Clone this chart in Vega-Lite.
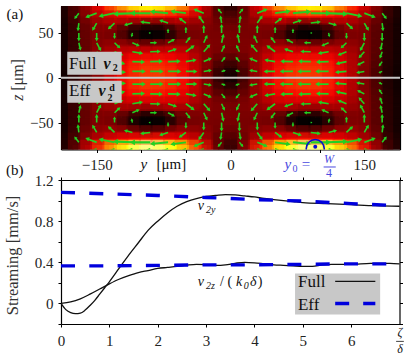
{"$schema":"https://vega.github.io/schema/vega-lite/v6.json","padding":{"left":3,"top":2,"right":0,"bottom":0},"spacing":30,"bounds":"flush","background":"white","config":{"view":{"stroke":null},"font":"Liberation Serif","axis":{"grid":false,"labelFont":"Liberation Serif","titleFont":"Liberation Serif","labelFontSize":15,"titleFontSize":16.5,"labelColor":"#222","titleColor":"#333","titleFontWeight":"normal","tickColor":"#000","domainColor":"#000","tickSize":3,"tickWidth":1,"domainWidth":1.2,"zindex":1,"labelOverlap":false,"labelFlush":false},"text":{"font":"Liberation Serif","color":"#111"}},
"datasets":{"heat":[
{"y":-183,"z":76,"v":0.05},{"y":-170,"z":76,"v":0.17},{"y":-156,"z":76,"v":0.3},{"y":-143,"z":76,"v":0.43},{"y":-129,"z":76,"v":0.55},{"y":-115,"z":76,"v":0.66},{"y":-102,"z":76,"v":0.74},{"y":-88,"z":76,"v":0.76},{"y":-75,"z":76,"v":0.72},{"y":-61,"z":76,"v":0.65},{"y":-48,"z":76,"v":0.55},{"y":-34,"z":76,"v":0.4},{"y":-20,"z":76,"v":0.22},{"y":-7,"z":76,"v":0.08},{"y":7,"z":76,"v":0.08},{"y":20,"z":76,"v":0.22},{"y":34,"z":76,"v":0.4},{"y":48,"z":76,"v":0.55},{"y":61,"z":76,"v":0.65},{"y":75,"z":76,"v":0.72},{"y":88,"z":76,"v":0.76},{"y":102,"z":76,"v":0.74},{"y":115,"z":76,"v":0.66},{"y":129,"z":76,"v":0.55},{"y":143,"z":76,"v":0.43},{"y":156,"z":76,"v":0.3},{"y":170,"z":76,"v":0.17},{"y":183,"z":76,"v":0.05},
{"y":-183,"z":68,"v":0.05},{"y":-170,"z":68,"v":0.16},{"y":-156,"z":68,"v":0.26},{"y":-143,"z":68,"v":0.33},{"y":-129,"z":68,"v":0.38},{"y":-115,"z":68,"v":0.42},{"y":-102,"z":68,"v":0.44},{"y":-88,"z":68,"v":0.45},{"y":-75,"z":68,"v":0.44},{"y":-61,"z":68,"v":0.42},{"y":-48,"z":68,"v":0.38},{"y":-34,"z":68,"v":0.32},{"y":-20,"z":68,"v":0.22},{"y":-7,"z":68,"v":0.14},{"y":7,"z":68,"v":0.14},{"y":20,"z":68,"v":0.22},{"y":34,"z":68,"v":0.32},{"y":48,"z":68,"v":0.38},{"y":61,"z":68,"v":0.42},{"y":75,"z":68,"v":0.44},{"y":88,"z":68,"v":0.45},{"y":102,"z":68,"v":0.44},{"y":115,"z":68,"v":0.42},{"y":129,"z":68,"v":0.38},{"y":143,"z":68,"v":0.33},{"y":156,"z":68,"v":0.26},{"y":170,"z":68,"v":0.16},{"y":183,"z":68,"v":0.05},
{"y":-183,"z":60,"v":0.04},{"y":-170,"z":60,"v":0.14},{"y":-156,"z":60,"v":0.22},{"y":-143,"z":60,"v":0.27},{"y":-129,"z":60,"v":0.28},{"y":-115,"z":60,"v":0.26},{"y":-102,"z":60,"v":0.2},{"y":-88,"z":60,"v":0.18},{"y":-75,"z":60,"v":0.2},{"y":-61,"z":60,"v":0.27},{"y":-48,"z":60,"v":0.27},{"y":-34,"z":60,"v":0.25},{"y":-20,"z":60,"v":0.22},{"y":-7,"z":60,"v":0.18},{"y":7,"z":60,"v":0.18},{"y":20,"z":60,"v":0.22},{"y":34,"z":60,"v":0.25},{"y":48,"z":60,"v":0.27},{"y":61,"z":60,"v":0.27},{"y":75,"z":60,"v":0.2},{"y":88,"z":60,"v":0.18},{"y":102,"z":60,"v":0.2},{"y":115,"z":60,"v":0.26},{"y":129,"z":60,"v":0.28},{"y":143,"z":60,"v":0.27},{"y":156,"z":60,"v":0.22},{"y":170,"z":60,"v":0.14},{"y":183,"z":60,"v":0.04},
{"y":-183,"z":52,"v":0.04},{"y":-170,"z":52,"v":0.13},{"y":-156,"z":52,"v":0.2},{"y":-143,"z":52,"v":0.23},{"y":-129,"z":52,"v":0.2},{"y":-115,"z":52,"v":0.1},{"y":-102,"z":52,"v":0.02},{"y":-88,"z":52,"v":0},{"y":-75,"z":52,"v":0.02},{"y":-61,"z":52,"v":0.1},{"y":-48,"z":52,"v":0.2},{"y":-34,"z":52,"v":0.21},{"y":-20,"z":52,"v":0.21},{"y":-7,"z":52,"v":0.2},{"y":7,"z":52,"v":0.2},{"y":20,"z":52,"v":0.21},{"y":34,"z":52,"v":0.21},{"y":48,"z":52,"v":0.2},{"y":61,"z":52,"v":0.1},{"y":75,"z":52,"v":0.02},{"y":88,"z":52,"v":0},{"y":102,"z":52,"v":0.02},{"y":115,"z":52,"v":0.1},{"y":129,"z":52,"v":0.2},{"y":143,"z":52,"v":0.23},{"y":156,"z":52,"v":0.2},{"y":170,"z":52,"v":0.13},{"y":183,"z":52,"v":0.04},
{"y":-183,"z":44,"v":0.04},{"y":-170,"z":44,"v":0.13},{"y":-156,"z":44,"v":0.2},{"y":-143,"z":44,"v":0.22},{"y":-129,"z":44,"v":0.2},{"y":-115,"z":44,"v":0.11},{"y":-102,"z":44,"v":0.03},{"y":-88,"z":44,"v":0.01},{"y":-75,"z":44,"v":0.03},{"y":-61,"z":44,"v":0.11},{"y":-48,"z":44,"v":0.2},{"y":-34,"z":44,"v":0.21},{"y":-20,"z":44,"v":0.21},{"y":-7,"z":44,"v":0.21},{"y":7,"z":44,"v":0.21},{"y":20,"z":44,"v":0.21},{"y":34,"z":44,"v":0.21},{"y":48,"z":44,"v":0.2},{"y":61,"z":44,"v":0.11},{"y":75,"z":44,"v":0.03},{"y":88,"z":44,"v":0.01},{"y":102,"z":44,"v":0.03},{"y":115,"z":44,"v":0.11},{"y":129,"z":44,"v":0.2},{"y":143,"z":44,"v":0.22},{"y":156,"z":44,"v":0.2},{"y":170,"z":44,"v":0.13},{"y":183,"z":44,"v":0.04},
{"y":-183,"z":36,"v":0.04},{"y":-170,"z":36,"v":0.13},{"y":-156,"z":36,"v":0.2},{"y":-143,"z":36,"v":0.25},{"y":-129,"z":36,"v":0.26},{"y":-115,"z":36,"v":0.27},{"y":-102,"z":36,"v":0.24},{"y":-88,"z":36,"v":0.22},{"y":-75,"z":36,"v":0.25},{"y":-61,"z":36,"v":0.28},{"y":-48,"z":36,"v":0.27},{"y":-34,"z":36,"v":0.24},{"y":-20,"z":36,"v":0.22},{"y":-7,"z":36,"v":0.21},{"y":7,"z":36,"v":0.21},{"y":20,"z":36,"v":0.22},{"y":34,"z":36,"v":0.24},{"y":48,"z":36,"v":0.27},{"y":61,"z":36,"v":0.28},{"y":75,"z":36,"v":0.25},{"y":88,"z":36,"v":0.22},{"y":102,"z":36,"v":0.24},{"y":115,"z":36,"v":0.27},{"y":129,"z":36,"v":0.26},{"y":143,"z":36,"v":0.25},{"y":156,"z":36,"v":0.2},{"y":170,"z":36,"v":0.13},{"y":183,"z":36,"v":0.04},
{"y":-183,"z":28,"v":0.04},{"y":-170,"z":28,"v":0.13},{"y":-156,"z":28,"v":0.2},{"y":-143,"z":28,"v":0.26},{"y":-129,"z":28,"v":0.31},{"y":-115,"z":28,"v":0.35},{"y":-102,"z":28,"v":0.36},{"y":-88,"z":28,"v":0.36},{"y":-75,"z":28,"v":0.36},{"y":-61,"z":28,"v":0.36},{"y":-48,"z":28,"v":0.33},{"y":-34,"z":28,"v":0.27},{"y":-20,"z":28,"v":0.22},{"y":-7,"z":28,"v":0.2},{"y":7,"z":28,"v":0.2},{"y":20,"z":28,"v":0.22},{"y":34,"z":28,"v":0.27},{"y":48,"z":28,"v":0.33},{"y":61,"z":28,"v":0.36},{"y":75,"z":28,"v":0.36},{"y":88,"z":28,"v":0.36},{"y":102,"z":28,"v":0.36},{"y":115,"z":28,"v":0.35},{"y":129,"z":28,"v":0.31},{"y":143,"z":28,"v":0.26},{"y":156,"z":28,"v":0.2},{"y":170,"z":28,"v":0.13},{"y":183,"z":28,"v":0.04},
{"y":-183,"z":20,"v":0.04},{"y":-170,"z":20,"v":0.12},{"y":-156,"z":20,"v":0.2},{"y":-143,"z":20,"v":0.27},{"y":-129,"z":20,"v":0.35},{"y":-115,"z":20,"v":0.41},{"y":-102,"z":20,"v":0.44},{"y":-88,"z":20,"v":0.44},{"y":-75,"z":20,"v":0.44},{"y":-61,"z":20,"v":0.42},{"y":-48,"z":20,"v":0.37},{"y":-34,"z":20,"v":0.29},{"y":-20,"z":20,"v":0.21},{"y":-7,"z":20,"v":0.15},{"y":7,"z":20,"v":0.15},{"y":20,"z":20,"v":0.21},{"y":34,"z":20,"v":0.29},{"y":48,"z":20,"v":0.37},{"y":61,"z":20,"v":0.42},{"y":75,"z":20,"v":0.44},{"y":88,"z":20,"v":0.44},{"y":102,"z":20,"v":0.44},{"y":115,"z":20,"v":0.41},{"y":129,"z":20,"v":0.35},{"y":143,"z":20,"v":0.27},{"y":156,"z":20,"v":0.2},{"y":170,"z":20,"v":0.12},{"y":183,"z":20,"v":0.04},
{"y":-183,"z":12,"v":0.03},{"y":-170,"z":12,"v":0.11},{"y":-156,"z":12,"v":0.19},{"y":-143,"z":12,"v":0.27},{"y":-129,"z":12,"v":0.36},{"y":-115,"z":12,"v":0.44},{"y":-102,"z":12,"v":0.48},{"y":-88,"z":12,"v":0.49},{"y":-75,"z":12,"v":0.48},{"y":-61,"z":12,"v":0.46},{"y":-48,"z":12,"v":0.4},{"y":-34,"z":12,"v":0.3},{"y":-20,"z":12,"v":0.19},{"y":-7,"z":12,"v":0.09},{"y":7,"z":12,"v":0.09},{"y":20,"z":12,"v":0.19},{"y":34,"z":12,"v":0.3},{"y":48,"z":12,"v":0.4},{"y":61,"z":12,"v":0.46},{"y":75,"z":12,"v":0.48},{"y":88,"z":12,"v":0.49},{"y":102,"z":12,"v":0.48},{"y":115,"z":12,"v":0.44},{"y":129,"z":12,"v":0.36},{"y":143,"z":12,"v":0.27},{"y":156,"z":12,"v":0.19},{"y":170,"z":12,"v":0.11},{"y":183,"z":12,"v":0.03},
{"y":-183,"z":4,"v":0.03},{"y":-170,"z":4,"v":0.1},{"y":-156,"z":4,"v":0.18},{"y":-143,"z":4,"v":0.27},{"y":-129,"z":4,"v":0.37},{"y":-115,"z":4,"v":0.45},{"y":-102,"z":4,"v":0.49},{"y":-88,"z":4,"v":0.5},{"y":-75,"z":4,"v":0.5},{"y":-61,"z":4,"v":0.47},{"y":-48,"z":4,"v":0.41},{"y":-34,"z":4,"v":0.3},{"y":-20,"z":4,"v":0.17},{"y":-7,"z":4,"v":0.04},{"y":7,"z":4,"v":0.04},{"y":20,"z":4,"v":0.17},{"y":34,"z":4,"v":0.3},{"y":48,"z":4,"v":0.41},{"y":61,"z":4,"v":0.47},{"y":75,"z":4,"v":0.5},{"y":88,"z":4,"v":0.5},{"y":102,"z":4,"v":0.49},{"y":115,"z":4,"v":0.45},{"y":129,"z":4,"v":0.37},{"y":143,"z":4,"v":0.27},{"y":156,"z":4,"v":0.18},{"y":170,"z":4,"v":0.1},{"y":183,"z":4,"v":0.03},
{"y":-183,"z":-4,"v":0.03},{"y":-170,"z":-4,"v":0.1},{"y":-156,"z":-4,"v":0.18},{"y":-143,"z":-4,"v":0.27},{"y":-129,"z":-4,"v":0.37},{"y":-115,"z":-4,"v":0.45},{"y":-102,"z":-4,"v":0.49},{"y":-88,"z":-4,"v":0.5},{"y":-75,"z":-4,"v":0.5},{"y":-61,"z":-4,"v":0.47},{"y":-48,"z":-4,"v":0.41},{"y":-34,"z":-4,"v":0.3},{"y":-20,"z":-4,"v":0.17},{"y":-7,"z":-4,"v":0.04},{"y":7,"z":-4,"v":0.04},{"y":20,"z":-4,"v":0.17},{"y":34,"z":-4,"v":0.3},{"y":48,"z":-4,"v":0.41},{"y":61,"z":-4,"v":0.47},{"y":75,"z":-4,"v":0.5},{"y":88,"z":-4,"v":0.5},{"y":102,"z":-4,"v":0.49},{"y":115,"z":-4,"v":0.45},{"y":129,"z":-4,"v":0.37},{"y":143,"z":-4,"v":0.27},{"y":156,"z":-4,"v":0.18},{"y":170,"z":-4,"v":0.1},{"y":183,"z":-4,"v":0.03},
{"y":-183,"z":-12,"v":0.03},{"y":-170,"z":-12,"v":0.11},{"y":-156,"z":-12,"v":0.19},{"y":-143,"z":-12,"v":0.27},{"y":-129,"z":-12,"v":0.36},{"y":-115,"z":-12,"v":0.44},{"y":-102,"z":-12,"v":0.48},{"y":-88,"z":-12,"v":0.49},{"y":-75,"z":-12,"v":0.48},{"y":-61,"z":-12,"v":0.46},{"y":-48,"z":-12,"v":0.4},{"y":-34,"z":-12,"v":0.3},{"y":-20,"z":-12,"v":0.19},{"y":-7,"z":-12,"v":0.09},{"y":7,"z":-12,"v":0.09},{"y":20,"z":-12,"v":0.19},{"y":34,"z":-12,"v":0.3},{"y":48,"z":-12,"v":0.4},{"y":61,"z":-12,"v":0.46},{"y":75,"z":-12,"v":0.48},{"y":88,"z":-12,"v":0.49},{"y":102,"z":-12,"v":0.48},{"y":115,"z":-12,"v":0.44},{"y":129,"z":-12,"v":0.36},{"y":143,"z":-12,"v":0.27},{"y":156,"z":-12,"v":0.19},{"y":170,"z":-12,"v":0.11},{"y":183,"z":-12,"v":0.03},
{"y":-183,"z":-20,"v":0.04},{"y":-170,"z":-20,"v":0.12},{"y":-156,"z":-20,"v":0.2},{"y":-143,"z":-20,"v":0.27},{"y":-129,"z":-20,"v":0.35},{"y":-115,"z":-20,"v":0.41},{"y":-102,"z":-20,"v":0.44},{"y":-88,"z":-20,"v":0.44},{"y":-75,"z":-20,"v":0.44},{"y":-61,"z":-20,"v":0.42},{"y":-48,"z":-20,"v":0.37},{"y":-34,"z":-20,"v":0.29},{"y":-20,"z":-20,"v":0.21},{"y":-7,"z":-20,"v":0.15},{"y":7,"z":-20,"v":0.15},{"y":20,"z":-20,"v":0.21},{"y":34,"z":-20,"v":0.29},{"y":48,"z":-20,"v":0.37},{"y":61,"z":-20,"v":0.42},{"y":75,"z":-20,"v":0.44},{"y":88,"z":-20,"v":0.44},{"y":102,"z":-20,"v":0.44},{"y":115,"z":-20,"v":0.41},{"y":129,"z":-20,"v":0.35},{"y":143,"z":-20,"v":0.27},{"y":156,"z":-20,"v":0.2},{"y":170,"z":-20,"v":0.12},{"y":183,"z":-20,"v":0.04},
{"y":-183,"z":-28,"v":0.04},{"y":-170,"z":-28,"v":0.13},{"y":-156,"z":-28,"v":0.2},{"y":-143,"z":-28,"v":0.26},{"y":-129,"z":-28,"v":0.31},{"y":-115,"z":-28,"v":0.35},{"y":-102,"z":-28,"v":0.36},{"y":-88,"z":-28,"v":0.36},{"y":-75,"z":-28,"v":0.36},{"y":-61,"z":-28,"v":0.36},{"y":-48,"z":-28,"v":0.33},{"y":-34,"z":-28,"v":0.27},{"y":-20,"z":-28,"v":0.22},{"y":-7,"z":-28,"v":0.2},{"y":7,"z":-28,"v":0.2},{"y":20,"z":-28,"v":0.22},{"y":34,"z":-28,"v":0.27},{"y":48,"z":-28,"v":0.33},{"y":61,"z":-28,"v":0.36},{"y":75,"z":-28,"v":0.36},{"y":88,"z":-28,"v":0.36},{"y":102,"z":-28,"v":0.36},{"y":115,"z":-28,"v":0.35},{"y":129,"z":-28,"v":0.31},{"y":143,"z":-28,"v":0.26},{"y":156,"z":-28,"v":0.2},{"y":170,"z":-28,"v":0.13},{"y":183,"z":-28,"v":0.04},
{"y":-183,"z":-36,"v":0.04},{"y":-170,"z":-36,"v":0.13},{"y":-156,"z":-36,"v":0.2},{"y":-143,"z":-36,"v":0.25},{"y":-129,"z":-36,"v":0.26},{"y":-115,"z":-36,"v":0.27},{"y":-102,"z":-36,"v":0.24},{"y":-88,"z":-36,"v":0.22},{"y":-75,"z":-36,"v":0.25},{"y":-61,"z":-36,"v":0.28},{"y":-48,"z":-36,"v":0.27},{"y":-34,"z":-36,"v":0.24},{"y":-20,"z":-36,"v":0.22},{"y":-7,"z":-36,"v":0.21},{"y":7,"z":-36,"v":0.21},{"y":20,"z":-36,"v":0.22},{"y":34,"z":-36,"v":0.24},{"y":48,"z":-36,"v":0.27},{"y":61,"z":-36,"v":0.28},{"y":75,"z":-36,"v":0.25},{"y":88,"z":-36,"v":0.22},{"y":102,"z":-36,"v":0.24},{"y":115,"z":-36,"v":0.27},{"y":129,"z":-36,"v":0.26},{"y":143,"z":-36,"v":0.25},{"y":156,"z":-36,"v":0.2},{"y":170,"z":-36,"v":0.13},{"y":183,"z":-36,"v":0.04},
{"y":-183,"z":-44,"v":0.04},{"y":-170,"z":-44,"v":0.13},{"y":-156,"z":-44,"v":0.2},{"y":-143,"z":-44,"v":0.22},{"y":-129,"z":-44,"v":0.2},{"y":-115,"z":-44,"v":0.11},{"y":-102,"z":-44,"v":0.03},{"y":-88,"z":-44,"v":0.01},{"y":-75,"z":-44,"v":0.03},{"y":-61,"z":-44,"v":0.11},{"y":-48,"z":-44,"v":0.2},{"y":-34,"z":-44,"v":0.21},{"y":-20,"z":-44,"v":0.21},{"y":-7,"z":-44,"v":0.21},{"y":7,"z":-44,"v":0.21},{"y":20,"z":-44,"v":0.21},{"y":34,"z":-44,"v":0.21},{"y":48,"z":-44,"v":0.2},{"y":61,"z":-44,"v":0.11},{"y":75,"z":-44,"v":0.03},{"y":88,"z":-44,"v":0.01},{"y":102,"z":-44,"v":0.03},{"y":115,"z":-44,"v":0.11},{"y":129,"z":-44,"v":0.2},{"y":143,"z":-44,"v":0.22},{"y":156,"z":-44,"v":0.2},{"y":170,"z":-44,"v":0.13},{"y":183,"z":-44,"v":0.04},
{"y":-183,"z":-52,"v":0.04},{"y":-170,"z":-52,"v":0.13},{"y":-156,"z":-52,"v":0.2},{"y":-143,"z":-52,"v":0.23},{"y":-129,"z":-52,"v":0.2},{"y":-115,"z":-52,"v":0.1},{"y":-102,"z":-52,"v":0.02},{"y":-88,"z":-52,"v":0},{"y":-75,"z":-52,"v":0.02},{"y":-61,"z":-52,"v":0.1},{"y":-48,"z":-52,"v":0.2},{"y":-34,"z":-52,"v":0.21},{"y":-20,"z":-52,"v":0.21},{"y":-7,"z":-52,"v":0.2},{"y":7,"z":-52,"v":0.2},{"y":20,"z":-52,"v":0.21},{"y":34,"z":-52,"v":0.21},{"y":48,"z":-52,"v":0.2},{"y":61,"z":-52,"v":0.1},{"y":75,"z":-52,"v":0.02},{"y":88,"z":-52,"v":0},{"y":102,"z":-52,"v":0.02},{"y":115,"z":-52,"v":0.1},{"y":129,"z":-52,"v":0.2},{"y":143,"z":-52,"v":0.23},{"y":156,"z":-52,"v":0.2},{"y":170,"z":-52,"v":0.13},{"y":183,"z":-52,"v":0.04},
{"y":-183,"z":-60,"v":0.04},{"y":-170,"z":-60,"v":0.14},{"y":-156,"z":-60,"v":0.22},{"y":-143,"z":-60,"v":0.27},{"y":-129,"z":-60,"v":0.28},{"y":-115,"z":-60,"v":0.26},{"y":-102,"z":-60,"v":0.2},{"y":-88,"z":-60,"v":0.18},{"y":-75,"z":-60,"v":0.2},{"y":-61,"z":-60,"v":0.27},{"y":-48,"z":-60,"v":0.27},{"y":-34,"z":-60,"v":0.25},{"y":-20,"z":-60,"v":0.22},{"y":-7,"z":-60,"v":0.18},{"y":7,"z":-60,"v":0.18},{"y":20,"z":-60,"v":0.22},{"y":34,"z":-60,"v":0.25},{"y":48,"z":-60,"v":0.27},{"y":61,"z":-60,"v":0.27},{"y":75,"z":-60,"v":0.2},{"y":88,"z":-60,"v":0.18},{"y":102,"z":-60,"v":0.2},{"y":115,"z":-60,"v":0.26},{"y":129,"z":-60,"v":0.28},{"y":143,"z":-60,"v":0.27},{"y":156,"z":-60,"v":0.22},{"y":170,"z":-60,"v":0.14},{"y":183,"z":-60,"v":0.04},
{"y":-183,"z":-68,"v":0.05},{"y":-170,"z":-68,"v":0.16},{"y":-156,"z":-68,"v":0.26},{"y":-143,"z":-68,"v":0.33},{"y":-129,"z":-68,"v":0.38},{"y":-115,"z":-68,"v":0.42},{"y":-102,"z":-68,"v":0.44},{"y":-88,"z":-68,"v":0.45},{"y":-75,"z":-68,"v":0.44},{"y":-61,"z":-68,"v":0.42},{"y":-48,"z":-68,"v":0.38},{"y":-34,"z":-68,"v":0.32},{"y":-20,"z":-68,"v":0.22},{"y":-7,"z":-68,"v":0.14},{"y":7,"z":-68,"v":0.14},{"y":20,"z":-68,"v":0.22},{"y":34,"z":-68,"v":0.32},{"y":48,"z":-68,"v":0.38},{"y":61,"z":-68,"v":0.42},{"y":75,"z":-68,"v":0.44},{"y":88,"z":-68,"v":0.45},{"y":102,"z":-68,"v":0.44},{"y":115,"z":-68,"v":0.42},{"y":129,"z":-68,"v":0.38},{"y":143,"z":-68,"v":0.33},{"y":156,"z":-68,"v":0.26},{"y":170,"z":-68,"v":0.16},{"y":183,"z":-68,"v":0.05},
{"y":-183,"z":-76,"v":0.06},{"y":-170,"z":-76,"v":0.2},{"y":-156,"z":-76,"v":0.36},{"y":-143,"z":-76,"v":0.52},{"y":-129,"z":-76,"v":0.68},{"y":-115,"z":-76,"v":0.8},{"y":-102,"z":-76,"v":0.88},{"y":-88,"z":-76,"v":0.9},{"y":-75,"z":-76,"v":0.85},{"y":-61,"z":-76,"v":0.78},{"y":-48,"z":-76,"v":0.65},{"y":-34,"z":-76,"v":0.48},{"y":-20,"z":-76,"v":0.28},{"y":-7,"z":-76,"v":0.1},{"y":7,"z":-76,"v":0.1},{"y":20,"z":-76,"v":0.28},{"y":34,"z":-76,"v":0.48},{"y":48,"z":-76,"v":0.65},{"y":61,"z":-76,"v":0.78},{"y":75,"z":-76,"v":0.85},{"y":88,"z":-76,"v":0.9},{"y":102,"z":-76,"v":0.88},{"y":115,"z":-76,"v":0.8},{"y":129,"z":-76,"v":0.68},{"y":143,"z":-76,"v":0.52},{"y":156,"z":-76,"v":0.36},{"y":170,"z":-76,"v":0.2},{"y":183,"z":-76,"v":0.06}
],"arrows":[
{"y":10,"z":72,"y2":13,"z2":75.7,"ang":39,"mag":4.3},{"y":30,"z":72,"y2":39,"z2":75.7,"ang":68,"mag":8.7},{"y":50,"z":72,"y2":64.2,"z2":73.9,"ang":82,"mag":12.8},{"y":70,"z":72,"y2":86.8,"z2":73.5,"ang":85,"mag":15},{"y":90,"z":72,"y2":109,"z2":72,"ang":90,"mag":17},{"y":110,"z":72,"y2":127.9,"z2":71.2,"ang":92,"mag":16},{"y":130,"z":72,"y2":144.6,"z2":69,"ang":102,"mag":13.3},{"y":150,"z":72,"y2":160,"z2":68.3,"ang":110,"mag":9.6},{"y":170,"z":72,"y2":173.7,"z2":67.2,"ang":142,"mag":5.4},
{"y":10,"z":61,"y2":11,"z2":67.2,"ang":10,"mag":5.6},{"y":30,"z":61,"y2":34.5,"z2":67.4,"ang":35,"mag":7},{"y":50,"z":61,"y2":56,"z2":65.5,"ang":53,"mag":6.6},{"y":70,"z":61,"y2":77.5,"z2":63.6,"ang":71,"mag":7.1},{"y":90,"z":61,"y2":98.6,"z2":62.1,"ang":83,"mag":7.8},{"y":110,"z":61,"y2":117,"z2":59.1,"ang":105,"mag":6.5},{"y":130,"z":61,"y2":135.6,"z2":55.7,"ang":133,"mag":6.9},{"y":150,"z":61,"y2":153.7,"z2":54.6,"ang":150,"mag":6.6},{"y":170,"z":61,"y2":170.8,"z2":54.3,"ang":173,"mag":6},
{"y":10,"z":50,"y2":10,"z2":57.5,"ang":0,"mag":6.7},{"y":30,"z":50,"y2":30,"z2":56.4,"ang":0,"mag":5.7},{"y":50,"z":50,"y2":50,"z2":54.8,"ang":0,"mag":4.3},{"y":70,"z":50,"y2":70,"z2":53,"ang":0,"mag":2.7},{"y":90,"z":50,"y2":90.6,"z2":50,"ang":90,"mag":0.5},{"y":110,"z":50,"y2":110.6,"z2":47,"ang":170,"mag":2.7},{"y":130,"z":50,"y2":130,"z2":45.2,"ang":180,"mag":4.3},{"y":150,"z":50,"y2":150,"z2":43,"ang":180,"mag":6.3},{"y":170,"z":50,"y2":170,"z2":43,"ang":180,"mag":6.3},
{"y":10,"z":39,"y2":8.3,"z2":46.5,"ang":-13,"mag":6.9},{"y":30,"z":39,"y2":27,"z2":45.4,"ang":-25,"mag":6.3},{"y":50,"z":39,"y2":46.3,"z2":43.8,"ang":-37,"mag":5.4},{"y":70,"z":39,"y2":64.4,"z2":42,"ang":-62,"mag":5.7},{"y":90,"z":39,"y2":84.4,"z2":39,"ang":-90,"mag":5},{"y":110,"z":39,"y2":104,"z2":36.4,"ang":-113,"mag":5.8},{"y":130,"z":39,"y2":125.2,"z2":34.5,"ang":-133,"mag":5.9},{"y":150,"z":39,"y2":146.3,"z2":32,"ang":-152,"mag":7.1},{"y":170,"z":39,"y2":168.5,"z2":32.6,"ang":-167,"mag":5.8},
{"y":10,"z":29,"y2":7.4,"z2":34.6,"ang":-25,"mag":5.5},{"y":30,"z":29,"y2":24.4,"z2":35.4,"ang":-41,"mag":7.6},{"y":50,"z":29,"y2":42.5,"z2":34.6,"ang":-53,"mag":8.4},{"y":70,"z":29,"y2":62.5,"z2":31.6,"ang":-71,"mag":7.1},{"y":90,"z":29,"y2":81,"z2":29.3,"ang":-88,"mag":8},{"y":110,"z":29,"y2":100.7,"z2":27.5,"ang":-99,"mag":8.4},{"y":130,"z":29,"y2":122.5,"z2":26,"ang":-112,"mag":7.2},{"y":150,"z":29,"y2":145.2,"z2":23.7,"ang":-138,"mag":6.4},{"y":170,"z":29,"y2":168.1,"z2":23.7,"ang":-160,"mag":5},
{"y":10,"z":18,"y2":7,"z2":21.7,"ang":-39,"mag":4.3},{"y":30,"z":18,"y2":23.3,"z2":21,"ang":-66,"mag":6.6},{"y":50,"z":18,"y2":40.7,"z2":19.5,"ang":-81,"mag":8.4},{"y":70,"z":18,"y2":58.8,"z2":18.3,"ang":-88,"mag":10},{"y":90,"z":18,"y2":78.8,"z2":18.3,"ang":-88,"mag":10},{"y":110,"z":18,"y2":98.8,"z2":17.7,"ang":-92,"mag":10},{"y":130,"z":18,"y2":120.7,"z2":16,"ang":-102,"mag":8.5},{"y":150,"z":18,"y2":144,"z2":15,"ang":-117,"mag":5.9},{"y":170,"z":18,"y2":167.4,"z2":14.3,"ang":-145,"mag":4},
{"y":10,"z":7,"y2":7,"z2":7.8,"ang":-75,"mag":2.8},{"y":30,"z":7,"y2":23.3,"z2":8.1,"ang":-81,"mag":6.1},{"y":50,"z":7,"y2":40,"z2":7,"ang":-90,"mag":9},{"y":70,"z":7,"y2":58.2,"z2":7,"ang":-90,"mag":10.5},{"y":90,"z":7,"y2":78,"z2":7,"ang":-90,"mag":10.7},{"y":110,"z":7,"y2":98,"z2":7,"ang":-90,"mag":10.7},{"y":130,"z":7,"y2":120,"z2":6.2,"ang":-94,"mag":9},{"y":150,"z":7,"y2":143.3,"z2":5.9,"ang":-99,"mag":6.1},{"y":170,"z":7,"y2":167.4,"z2":5.9,"ang":-113,"mag":2.5},
{"y":-10,"z":72,"y2":-13,"z2":75.7,"ang":-39,"mag":4.3},{"y":-30,"z":72,"y2":-39,"z2":75.7,"ang":-68,"mag":8.7},{"y":-50,"z":72,"y2":-64.2,"z2":73.9,"ang":-82,"mag":12.8},{"y":-70,"z":72,"y2":-86.8,"z2":73.5,"ang":-85,"mag":15},{"y":-90,"z":72,"y2":-109,"z2":72,"ang":-90,"mag":17},{"y":-110,"z":72,"y2":-127.9,"z2":71.2,"ang":-92,"mag":16},{"y":-130,"z":72,"y2":-144.6,"z2":69,"ang":-102,"mag":13.3},{"y":-150,"z":72,"y2":-160,"z2":68.3,"ang":-110,"mag":9.6},{"y":-170,"z":72,"y2":-173.7,"z2":67.2,"ang":-142,"mag":5.4},
{"y":-10,"z":61,"y2":-11,"z2":67.2,"ang":-10,"mag":5.6},{"y":-30,"z":61,"y2":-34.5,"z2":67.4,"ang":-35,"mag":7},{"y":-50,"z":61,"y2":-56,"z2":65.5,"ang":-53,"mag":6.6},{"y":-70,"z":61,"y2":-77.5,"z2":63.6,"ang":-71,"mag":7.1},{"y":-90,"z":61,"y2":-98.6,"z2":62.1,"ang":-83,"mag":7.8},{"y":-110,"z":61,"y2":-117,"z2":59.1,"ang":-105,"mag":6.5},{"y":-130,"z":61,"y2":-135.6,"z2":55.7,"ang":-133,"mag":6.9},{"y":-150,"z":61,"y2":-153.7,"z2":54.6,"ang":-150,"mag":6.6},{"y":-170,"z":61,"y2":-170.8,"z2":54.3,"ang":-173,"mag":6},
{"y":-10,"z":50,"y2":-10,"z2":57.5,"ang":0,"mag":6.7},{"y":-30,"z":50,"y2":-30,"z2":56.4,"ang":0,"mag":5.7},{"y":-50,"z":50,"y2":-50,"z2":54.8,"ang":0,"mag":4.3},{"y":-70,"z":50,"y2":-70,"z2":53,"ang":0,"mag":2.7},{"y":-90,"z":50,"y2":-90.6,"z2":50,"ang":-90,"mag":0.5},{"y":-110,"z":50,"y2":-110.6,"z2":47,"ang":-170,"mag":2.7},{"y":-130,"z":50,"y2":-130,"z2":45.2,"ang":180,"mag":4.3},{"y":-150,"z":50,"y2":-150,"z2":43,"ang":180,"mag":6.3},{"y":-170,"z":50,"y2":-170,"z2":43,"ang":180,"mag":6.3},
{"y":-10,"z":39,"y2":-8.3,"z2":46.5,"ang":13,"mag":6.9},{"y":-30,"z":39,"y2":-27,"z2":45.4,"ang":25,"mag":6.3},{"y":-50,"z":39,"y2":-46.3,"z2":43.8,"ang":37,"mag":5.4},{"y":-70,"z":39,"y2":-64.4,"z2":42,"ang":62,"mag":5.7},{"y":-90,"z":39,"y2":-84.4,"z2":39,"ang":90,"mag":5},{"y":-110,"z":39,"y2":-104,"z2":36.4,"ang":113,"mag":5.8},{"y":-130,"z":39,"y2":-125.2,"z2":34.5,"ang":133,"mag":5.9},{"y":-150,"z":39,"y2":-146.3,"z2":32,"ang":152,"mag":7.1},{"y":-170,"z":39,"y2":-168.5,"z2":32.6,"ang":167,"mag":5.8},
{"y":-10,"z":29,"y2":-7.4,"z2":34.6,"ang":25,"mag":5.5},{"y":-30,"z":29,"y2":-24.4,"z2":35.4,"ang":41,"mag":7.6},{"y":-50,"z":29,"y2":-42.5,"z2":34.6,"ang":53,"mag":8.4},{"y":-70,"z":29,"y2":-62.5,"z2":31.6,"ang":71,"mag":7.1},{"y":-90,"z":29,"y2":-81,"z2":29.3,"ang":88,"mag":8},{"y":-110,"z":29,"y2":-100.7,"z2":27.5,"ang":99,"mag":8.4},{"y":-130,"z":29,"y2":-122.5,"z2":26,"ang":112,"mag":7.2},{"y":-150,"z":29,"y2":-145.2,"z2":23.7,"ang":138,"mag":6.4},{"y":-170,"z":29,"y2":-168.1,"z2":23.7,"ang":160,"mag":5},
{"y":-10,"z":18,"y2":-7,"z2":21.7,"ang":39,"mag":4.3},{"y":-30,"z":18,"y2":-23.3,"z2":21,"ang":66,"mag":6.6},{"y":-50,"z":18,"y2":-40.7,"z2":19.5,"ang":81,"mag":8.4},{"y":-70,"z":18,"y2":-58.8,"z2":18.3,"ang":88,"mag":10},{"y":-90,"z":18,"y2":-78.8,"z2":18.3,"ang":88,"mag":10},{"y":-110,"z":18,"y2":-98.8,"z2":17.7,"ang":92,"mag":10},{"y":-130,"z":18,"y2":-120.7,"z2":16,"ang":102,"mag":8.5},{"y":-150,"z":18,"y2":-144,"z2":15,"ang":117,"mag":5.9},{"y":-170,"z":18,"y2":-167.4,"z2":14.3,"ang":145,"mag":4},
{"y":-10,"z":7,"y2":-7,"z2":7.8,"ang":75,"mag":2.8},{"y":-30,"z":7,"y2":-23.3,"z2":8.1,"ang":81,"mag":6.1},{"y":-50,"z":7,"y2":-40,"z2":7,"ang":90,"mag":9},{"y":-70,"z":7,"y2":-58.2,"z2":7,"ang":90,"mag":10.5},{"y":-90,"z":7,"y2":-78,"z2":7,"ang":90,"mag":10.7},{"y":-110,"z":7,"y2":-98,"z2":7,"ang":90,"mag":10.7},{"y":-130,"z":7,"y2":-120,"z2":6.2,"ang":94,"mag":9},{"y":-150,"z":7,"y2":-143.3,"z2":5.9,"ang":99,"mag":6.1},{"y":-170,"z":7,"y2":-167.4,"z2":5.9,"ang":113,"mag":2.5},
{"y":10,"z":-72,"y2":13,"z2":-75.7,"ang":141,"mag":4.3},{"y":30,"z":-72,"y2":39,"z2":-75.7,"ang":112,"mag":8.7},{"y":50,"z":-72,"y2":64.2,"z2":-73.9,"ang":98,"mag":12.8},{"y":70,"z":-72,"y2":86.8,"z2":-73.5,"ang":95,"mag":15},{"y":90,"z":-72,"y2":109,"z2":-72,"ang":90,"mag":17},{"y":110,"z":-72,"y2":127.9,"z2":-71.2,"ang":88,"mag":16},{"y":130,"z":-72,"y2":144.6,"z2":-69,"ang":78,"mag":13.3},{"y":150,"z":-72,"y2":160,"z2":-68.3,"ang":70,"mag":9.6},{"y":170,"z":-72,"y2":173.7,"z2":-67.2,"ang":38,"mag":5.4},
{"y":10,"z":-61,"y2":11,"z2":-67.2,"ang":170,"mag":5.6},{"y":30,"z":-61,"y2":34.5,"z2":-67.4,"ang":145,"mag":7},{"y":50,"z":-61,"y2":56,"z2":-65.5,"ang":127,"mag":6.6},{"y":70,"z":-61,"y2":77.5,"z2":-63.6,"ang":109,"mag":7.1},{"y":90,"z":-61,"y2":98.6,"z2":-62.1,"ang":97,"mag":7.8},{"y":110,"z":-61,"y2":117,"z2":-59.1,"ang":75,"mag":6.5},{"y":130,"z":-61,"y2":135.6,"z2":-55.7,"ang":47,"mag":6.9},{"y":150,"z":-61,"y2":153.7,"z2":-54.6,"ang":30,"mag":6.6},{"y":170,"z":-61,"y2":170.8,"z2":-54.3,"ang":7,"mag":6},
{"y":10,"z":-50,"y2":10,"z2":-57.5,"ang":180,"mag":6.7},{"y":30,"z":-50,"y2":30,"z2":-56.4,"ang":180,"mag":5.7},{"y":50,"z":-50,"y2":50,"z2":-54.8,"ang":180,"mag":4.3},{"y":70,"z":-50,"y2":70,"z2":-53,"ang":180,"mag":2.7},{"y":90,"z":-50,"y2":90.6,"z2":-50,"ang":90,"mag":0.5},{"y":110,"z":-50,"y2":110.6,"z2":-47,"ang":10,"mag":2.7},{"y":130,"z":-50,"y2":130,"z2":-45.2,"ang":0,"mag":4.3},{"y":150,"z":-50,"y2":150,"z2":-43,"ang":0,"mag":6.3},{"y":170,"z":-50,"y2":170,"z2":-43,"ang":0,"mag":6.3},
{"y":10,"z":-39,"y2":8.3,"z2":-46.5,"ang":193,"mag":6.9},{"y":30,"z":-39,"y2":27,"z2":-45.4,"ang":205,"mag":6.3},{"y":50,"z":-39,"y2":46.3,"z2":-43.8,"ang":217,"mag":5.4},{"y":70,"z":-39,"y2":64.4,"z2":-42,"ang":242,"mag":5.7},{"y":90,"z":-39,"y2":84.4,"z2":-39,"ang":270,"mag":5},{"y":110,"z":-39,"y2":104,"z2":-36.4,"ang":293,"mag":5.8},{"y":130,"z":-39,"y2":125.2,"z2":-34.5,"ang":313,"mag":5.9},{"y":150,"z":-39,"y2":146.3,"z2":-32,"ang":332,"mag":7.1},{"y":170,"z":-39,"y2":168.5,"z2":-32.6,"ang":347,"mag":5.8},
{"y":10,"z":-29,"y2":7.4,"z2":-34.6,"ang":205,"mag":5.5},{"y":30,"z":-29,"y2":24.4,"z2":-35.4,"ang":221,"mag":7.6},{"y":50,"z":-29,"y2":42.5,"z2":-34.6,"ang":233,"mag":8.4},{"y":70,"z":-29,"y2":62.5,"z2":-31.6,"ang":251,"mag":7.1},{"y":90,"z":-29,"y2":81,"z2":-29.3,"ang":268,"mag":8},{"y":110,"z":-29,"y2":100.7,"z2":-27.5,"ang":279,"mag":8.4},{"y":130,"z":-29,"y2":122.5,"z2":-26,"ang":292,"mag":7.2},{"y":150,"z":-29,"y2":145.2,"z2":-23.7,"ang":318,"mag":6.4},{"y":170,"z":-29,"y2":168.1,"z2":-23.7,"ang":340,"mag":5},
{"y":10,"z":-18,"y2":7,"z2":-21.7,"ang":219,"mag":4.3},{"y":30,"z":-18,"y2":23.3,"z2":-21,"ang":246,"mag":6.6},{"y":50,"z":-18,"y2":40.7,"z2":-19.5,"ang":261,"mag":8.4},{"y":70,"z":-18,"y2":58.8,"z2":-18.3,"ang":268,"mag":10},{"y":90,"z":-18,"y2":78.8,"z2":-18.3,"ang":268,"mag":10},{"y":110,"z":-18,"y2":98.8,"z2":-17.7,"ang":272,"mag":10},{"y":130,"z":-18,"y2":120.7,"z2":-16,"ang":282,"mag":8.5},{"y":150,"z":-18,"y2":144,"z2":-15,"ang":297,"mag":5.9},{"y":170,"z":-18,"y2":167.4,"z2":-14.3,"ang":325,"mag":4},
{"y":10,"z":-7,"y2":7,"z2":-7.8,"ang":255,"mag":2.8},{"y":30,"z":-7,"y2":23.3,"z2":-8.1,"ang":261,"mag":6.1},{"y":50,"z":-7,"y2":40,"z2":-7,"ang":270,"mag":9},{"y":70,"z":-7,"y2":58.2,"z2":-7,"ang":270,"mag":10.5},{"y":90,"z":-7,"y2":78,"z2":-7,"ang":270,"mag":10.7},{"y":110,"z":-7,"y2":98,"z2":-7,"ang":270,"mag":10.7},{"y":130,"z":-7,"y2":120,"z2":-6.2,"ang":274,"mag":9},{"y":150,"z":-7,"y2":143.3,"z2":-5.9,"ang":279,"mag":6.1},{"y":170,"z":-7,"y2":167.4,"z2":-5.9,"ang":293,"mag":2.5},
{"y":-10,"z":-72,"y2":-13,"z2":-75.7,"ang":-141,"mag":4.3},{"y":-30,"z":-72,"y2":-39,"z2":-75.7,"ang":-112,"mag":8.7},{"y":-50,"z":-72,"y2":-64.2,"z2":-73.9,"ang":-98,"mag":12.8},{"y":-70,"z":-72,"y2":-86.8,"z2":-73.5,"ang":-95,"mag":15},{"y":-90,"z":-72,"y2":-109,"z2":-72,"ang":-90,"mag":17},{"y":-110,"z":-72,"y2":-127.9,"z2":-71.2,"ang":-88,"mag":16},{"y":-130,"z":-72,"y2":-144.6,"z2":-69,"ang":-78,"mag":13.3},{"y":-150,"z":-72,"y2":-160,"z2":-68.3,"ang":-70,"mag":9.6},{"y":-170,"z":-72,"y2":-173.7,"z2":-67.2,"ang":-38,"mag":5.4},
{"y":-10,"z":-61,"y2":-11,"z2":-67.2,"ang":-170,"mag":5.6},{"y":-30,"z":-61,"y2":-34.5,"z2":-67.4,"ang":-145,"mag":7},{"y":-50,"z":-61,"y2":-56,"z2":-65.5,"ang":-127,"mag":6.6},{"y":-70,"z":-61,"y2":-77.5,"z2":-63.6,"ang":-109,"mag":7.1},{"y":-90,"z":-61,"y2":-98.6,"z2":-62.1,"ang":-97,"mag":7.8},{"y":-110,"z":-61,"y2":-117,"z2":-59.1,"ang":-75,"mag":6.5},{"y":-130,"z":-61,"y2":-135.6,"z2":-55.7,"ang":-47,"mag":6.9},{"y":-150,"z":-61,"y2":-153.7,"z2":-54.6,"ang":-30,"mag":6.6},{"y":-170,"z":-61,"y2":-170.8,"z2":-54.3,"ang":-7,"mag":6},
{"y":-10,"z":-50,"y2":-10,"z2":-57.5,"ang":180,"mag":6.7},{"y":-30,"z":-50,"y2":-30,"z2":-56.4,"ang":180,"mag":5.7},{"y":-50,"z":-50,"y2":-50,"z2":-54.8,"ang":180,"mag":4.3},{"y":-70,"z":-50,"y2":-70,"z2":-53,"ang":180,"mag":2.7},{"y":-90,"z":-50,"y2":-90.6,"z2":-50,"ang":-90,"mag":0.5},{"y":-110,"z":-50,"y2":-110.6,"z2":-47,"ang":-10,"mag":2.7},{"y":-130,"z":-50,"y2":-130,"z2":-45.2,"ang":0,"mag":4.3},{"y":-150,"z":-50,"y2":-150,"z2":-43,"ang":0,"mag":6.3},{"y":-170,"z":-50,"y2":-170,"z2":-43,"ang":0,"mag":6.3},
{"y":-10,"z":-39,"y2":-8.3,"z2":-46.5,"ang":-193,"mag":6.9},{"y":-30,"z":-39,"y2":-27,"z2":-45.4,"ang":-205,"mag":6.3},{"y":-50,"z":-39,"y2":-46.3,"z2":-43.8,"ang":-217,"mag":5.4},{"y":-70,"z":-39,"y2":-64.4,"z2":-42,"ang":-242,"mag":5.7},{"y":-90,"z":-39,"y2":-84.4,"z2":-39,"ang":-270,"mag":5},{"y":-110,"z":-39,"y2":-104,"z2":-36.4,"ang":-293,"mag":5.8},{"y":-130,"z":-39,"y2":-125.2,"z2":-34.5,"ang":-313,"mag":5.9},{"y":-150,"z":-39,"y2":-146.3,"z2":-32,"ang":-332,"mag":7.1},{"y":-170,"z":-39,"y2":-168.5,"z2":-32.6,"ang":-347,"mag":5.8},
{"y":-10,"z":-29,"y2":-7.4,"z2":-34.6,"ang":-205,"mag":5.5},{"y":-30,"z":-29,"y2":-24.4,"z2":-35.4,"ang":-221,"mag":7.6},{"y":-50,"z":-29,"y2":-42.5,"z2":-34.6,"ang":-233,"mag":8.4},{"y":-70,"z":-29,"y2":-62.5,"z2":-31.6,"ang":-251,"mag":7.1},{"y":-90,"z":-29,"y2":-81,"z2":-29.3,"ang":-268,"mag":8},{"y":-110,"z":-29,"y2":-100.7,"z2":-27.5,"ang":-279,"mag":8.4},{"y":-130,"z":-29,"y2":-122.5,"z2":-26,"ang":-292,"mag":7.2},{"y":-150,"z":-29,"y2":-145.2,"z2":-23.7,"ang":-318,"mag":6.4},{"y":-170,"z":-29,"y2":-168.1,"z2":-23.7,"ang":-340,"mag":5},
{"y":-10,"z":-18,"y2":-7,"z2":-21.7,"ang":-219,"mag":4.3},{"y":-30,"z":-18,"y2":-23.3,"z2":-21,"ang":-246,"mag":6.6},{"y":-50,"z":-18,"y2":-40.7,"z2":-19.5,"ang":-261,"mag":8.4},{"y":-70,"z":-18,"y2":-58.8,"z2":-18.3,"ang":-268,"mag":10},{"y":-90,"z":-18,"y2":-78.8,"z2":-18.3,"ang":-268,"mag":10},{"y":-110,"z":-18,"y2":-98.8,"z2":-17.7,"ang":-272,"mag":10},{"y":-130,"z":-18,"y2":-120.7,"z2":-16,"ang":-282,"mag":8.5},{"y":-150,"z":-18,"y2":-144,"z2":-15,"ang":-297,"mag":5.9},{"y":-170,"z":-18,"y2":-167.4,"z2":-14.3,"ang":-325,"mag":4},
{"y":-10,"z":-7,"y2":-7,"z2":-7.8,"ang":-255,"mag":2.8},{"y":-30,"z":-7,"y2":-23.3,"z2":-8.1,"ang":-261,"mag":6.1},{"y":-50,"z":-7,"y2":-40,"z2":-7,"ang":-270,"mag":9},{"y":-70,"z":-7,"y2":-58.2,"z2":-7,"ang":-270,"mag":10.5},{"y":-90,"z":-7,"y2":-78,"z2":-7,"ang":-270,"mag":10.7},{"y":-110,"z":-7,"y2":-98,"z2":-7,"ang":-270,"mag":10.7},{"y":-130,"z":-7,"y2":-120,"z2":-6.2,"ang":-274,"mag":9},{"y":-150,"z":-7,"y2":-143.3,"z2":-5.9,"ang":-279,"mag":6.1},{"y":-170,"z":-7,"y2":-167.4,"z2":-5.9,"ang":-293,"mag":2.5},
{"y":30,"z":-79,"y2":36,"z2":-82,"ang":120,"mag":6},{"y":50,"z":-79,"y2":56,"z2":-82,"ang":120,"mag":6},{"y":70,"z":-79,"y2":76,"z2":-82,"ang":120,"mag":6},{"y":110,"z":-79,"y2":116,"z2":-82,"ang":120,"mag":6},{"y":130,"z":-79,"y2":136,"z2":-82,"ang":120,"mag":6},{"y":150,"z":-79,"y2":156,"z2":-82,"ang":120,"mag":6},{"y":-30,"z":-79,"y2":-36,"z2":-82,"ang":-120,"mag":6},{"y":-50,"z":-79,"y2":-56,"z2":-82,"ang":-120,"mag":6},{"y":-70,"z":-79,"y2":-76,"z2":-82,"ang":-120,"mag":6},{"y":-90,"z":-79,"y2":-96,"z2":-82,"ang":-120,"mag":6},{"y":-110,"z":-79,"y2":-116,"z2":-82,"ang":-120,"mag":6},{"y":-130,"z":-79,"y2":-136,"z2":-82,"ang":-120,"mag":6},{"y":-150,"z":-79,"y2":-156,"z2":-82,"ang":-120,"mag":6}
]},
"vconcat":[{"width":339,"height":143.5,"encoding":{"x":{"field":"y","type":"quantitative","scale":{"domain":[-190,190],"nice":false,"zero":false},"axis":null},"y":{"field":"z","type":"quantitative","scale":{"domain":[-80,80],"nice":false,"zero":false},"axis":null}},"resolve":{"axis":{"x":"independent","y":"independent"},"scale":{"size":"independent"}},"layer":[
{"data":{"name":"heat"},"mark":{"type":"rect","width":12.7,"height":7.7,"clip":true},"encoding":{"color":{"field":"v","type":"quantitative","legend":null,"scale":{"domain":[0,0.42,0.78,1],"range":["#000000","#f60000","#ffff00","#ffffff"],"interpolate":"rgb"}}}},
{"data":{"name":"heat"},"mark":{"type":"rect","width":22,"height":12.5,"opacity":0.4,"clip":true},"encoding":{"color":{"field":"v","type":"quantitative"},"order":[{"field":"z","sort":"descending"},{"field":"y","sort":"ascending"}]}},
{"data":{"name":"heat"},"mark":{"type":"rect","width":22,"height":12.5,"opacity":0.4,"clip":true},"encoding":{"color":{"field":"v","type":"quantitative"},"order":[{"field":"z","sort":"ascending"},{"field":"y","sort":"descending"}]}},
{"data":{"values":[{"y":-190,"y2":190,"z":0}]},"mark":{"type":"rule","color":"#c8c8c8","strokeWidth":2.2},"encoding":{"x2":{"field":"y2"}}},
{"data":{"name":"arrows"},"mark":{"type":"rule","color":"#22d022","clip":true},"encoding":{"x2":{"field":"y2"},"y2":{"field":"z2"},"size":{"field":"mag","type":"quantitative","legend":null,"scale":{"domain":[0,17],"range":[1.3,2.1]}}}},
{"data":{"name":"arrows"},"mark":{"type":"point","shape":"triangle","filled":true,"opacity":1,"color":"#22d022","clip":true},"encoding":{"x":{"field":"y2","type":"quantitative"},"y":{"field":"z2","type":"quantitative"},"angle":{"field":"ang","type":"quantitative","scale":null},"size":{"field":"mag","type":"quantitative","legend":null,"scale":{"domain":[0,17],"range":[3,34]}}}},
{"data":{"values":[{"y":95,"z":-79}]},"mark":{"type":"point","shape":"circle","size":324,"stroke":"#0a0ad0","strokeWidth":1.6,"opacity":1,"clip":true}},
{"data":{"values":[{"y":95,"z":-77}]},"mark":{"type":"point","shape":"circle","filled":true,"size":16,"color":"#0a0ad0","opacity":1,"clip":true}},
{"data":{"values":[{"y":-183,"y2":-122,"z":29,"z2":3.4},{"y":-183,"y2":-122,"z":-3.4,"z2":-28}]},"mark":{"type":"rect","color":"#c8c8c8"},"encoding":{"x2":{"field":"y2"},"y2":{"field":"z2"}}},
{"data":{"values":[{"y":-251,"z":66,"t":"(a)"},{"y":-83,"z":-102,"t":"[μm]"}]},"mark":{"type":"text","align":"left","baseline":"alphabetic","fontSize":15},"encoding":{"text":{"field":"t"}}},
{"data":{"values":[{"y":-181,"z":10,"t":"Full"},{"y":-181,"z":-20,"t":"Eff"}]},"mark":{"type":"text","align":"left","baseline":"alphabetic","fontSize":17},"encoding":{"text":{"field":"t"}}},
{"data":{"values":[{"y":-142.5,"z":10,"t":"v"},{"y":-148,"z":-20,"t":"v"}]},"mark":{"type":"text","align":"left","baseline":"alphabetic","fontSize":16,"fontWeight":"bold","fontStyle":"italic"},"encoding":{"text":{"field":"t"}}},
{"data":{"values":[{"y":-132,"z":7,"t":"2"},{"y":-138,"z":-26,"t":"2"},{"y":-136,"z":-14.5,"t":"d"}]},"mark":{"type":"text","align":"left","baseline":"alphabetic","fontSize":10,"fontWeight":"bold"},"encoding":{"text":{"field":"t"}}},
{"data":{"values":[{"y":-101,"z":-102,"t":"y"}]},"mark":{"type":"text","align":"left","baseline":"alphabetic","fontSize":15,"fontStyle":"italic"},"encoding":{"text":{"field":"t"}}},
{"data":{"values":[{"y":-233,"z":-25.7,"t":"z"}]},"mark":{"type":"text","align":"left","baseline":"alphabetic","fontSize":16,"fontStyle":"italic","angle":270,"color":"#333"},"encoding":{"text":{"field":"t"}}},
{"data":{"values":[{"y":-233,"z":-14.5,"t":"[μm]"}]},"mark":{"type":"text","align":"left","baseline":"alphabetic","fontSize":16,"angle":270,"color":"#333"},"encoding":{"text":{"field":"t"}}},
{"data":{"values":[{"y":60.6,"z":-102,"t":"y"}]},"mark":{"type":"text","align":"left","baseline":"alphabetic","fontSize":15,"fontStyle":"italic","color":"#4a4ae0"},"encoding":{"text":{"field":"t"}}},
{"data":{"values":[{"y":69.6,"z":-105,"t":"0"}]},"mark":{"type":"text","align":"left","baseline":"alphabetic","fontSize":10,"color":"#4a4ae0"},"encoding":{"text":{"field":"t"}}},
{"data":{"values":[{"y":80,"z":-102,"t":"="}]},"mark":{"type":"text","align":"left","baseline":"alphabetic","fontSize":15,"color":"#4a4ae0"},"encoding":{"text":{"field":"t"}}},
{"data":{"values":[{"y":110.5,"z":-95,"t":"W"}]},"mark":{"type":"text","align":"center","baseline":"alphabetic","fontSize":12,"fontStyle":"italic","color":"#4a4ae0"},"encoding":{"text":{"field":"t"}}},
{"data":{"values":[{"y":110.5,"z":-111,"t":"4"}]},"mark":{"type":"text","align":"center","baseline":"alphabetic","fontSize":12,"color":"#4a4ae0"},"encoding":{"text":{"field":"t"}}},
{"data":{"values":[{"y":104.4,"y2":118,"z":-99.5}]},"mark":{"type":"rule","color":"#4a4ae0","strokeWidth":1},"encoding":{"x2":{"field":"y2"}}},
{"data":{"values":[{"y":0,"z":0}]},"mark":{"type":"point","opacity":0},"encoding":{"x":{"field":"y","type":"quantitative","scale":{"domain":[-190,190],"nice":false,"zero":false},"axis":{"orient":"bottom","title":null,"values":[-150,-100,-50,0,50,100,150],"labelExpr":"abs(datum.value)%150==0?datum.label:''","labelPadding":5,"format":"d"}},"y":{"field":"z","type":"quantitative","scale":{"domain":[-80,80],"nice":false,"zero":false},"axis":{"orient":"left","title":null,"values":[-50,0,50],"labelPadding":5,"format":"d"}}}},
{"data":{"values":[{"y":0,"z":0}]},"mark":{"type":"point","opacity":0},"encoding":{"x":{"field":"y","type":"quantitative","scale":{"domain":[-190,190],"nice":false,"zero":false},"axis":{"orient":"top","title":null,"values":[-150,-100,-50,0,50,100,150],"labels":false}},"y":{"field":"z","type":"quantitative","scale":{"domain":[-80,80],"nice":false,"zero":false},"axis":{"orient":"right","title":null,"values":[-50,0,50],"labels":false}}}}
]},
{"width":338.5,"height":144,"encoding":{"x":{"field":"x","type":"quantitative","scale":{"domain":[0,7],"nice":false,"zero":false},"axis":null},"y":{"field":"y","type":"quantitative","scale":{"domain":[-0.2,1.2],"nice":false,"zero":false},"axis":null}},"resolve":{"axis":{"x":"independent","y":"independent"}},"layer":[
{"data":{"values":[{"x":4.84,"x2":6.6,"y":0.29,"y2":-0.107}]},"mark":{"type":"rect","color":"#c8c8c8"},"encoding":{"x2":{"field":"x2"},"y2":{"field":"y2"}}},
{"data":{"values":[
{"s":"v2y","x":0,"y":0},{"s":"v2y","x":0.1,"y":-0.06},{"s":"v2y","x":0.2,"y":-0.09},{"s":"v2y","x":0.3,"y":-0.1},{"s":"v2y","x":0.4,"y":-0.095},{"s":"v2y","x":0.5,"y":-0.065},{"s":"v2y","x":0.6,"y":-0.02},{"s":"v2y","x":0.7,"y":0.03},{"s":"v2y","x":0.8,"y":0.09},{"s":"v2y","x":0.9,"y":0.15},{"s":"v2y","x":1,"y":0.21},{"s":"v2y","x":1.2,"y":0.34},{"s":"v2y","x":1.4,"y":0.47},{"s":"v2y","x":1.6,"y":0.59},{"s":"v2y","x":1.8,"y":0.71},{"s":"v2y","x":2,"y":0.8},{"s":"v2y","x":2.2,"y":0.88},{"s":"v2y","x":2.4,"y":0.945},{"s":"v2y","x":2.6,"y":0.99},{"s":"v2y","x":2.8,"y":1.02},{"s":"v2y","x":3,"y":1.04},{"s":"v2y","x":3.2,"y":1.05},{"s":"v2y","x":3.4,"y":1.058},{"s":"v2y","x":3.6,"y":1.055},{"s":"v2y","x":3.8,"y":1.045},{"s":"v2y","x":4,"y":1.035},{"s":"v2y","x":4.2,"y":1.02},{"s":"v2y","x":4.4,"y":1.01},{"s":"v2y","x":4.6,"y":1},{"s":"v2y","x":4.8,"y":0.99},{"s":"v2y","x":5,"y":0.98},{"s":"v2y","x":5.5,"y":0.97},{"s":"v2y","x":6,"y":0.96},{"s":"v2y","x":6.5,"y":0.95},{"s":"v2y","x":7,"y":0.945},
{"s":"v2z","x":0,"y":0},{"s":"v2z","x":0.2,"y":0.015},{"s":"v2z","x":0.4,"y":0.045},{"s":"v2z","x":0.6,"y":0.09},{"s":"v2z","x":0.8,"y":0.14},{"s":"v2z","x":1,"y":0.19},{"s":"v2z","x":1.2,"y":0.235},{"s":"v2z","x":1.4,"y":0.27},{"s":"v2z","x":1.6,"y":0.3},{"s":"v2z","x":1.8,"y":0.32},{"s":"v2z","x":2,"y":0.34},{"s":"v2z","x":2.2,"y":0.35},{"s":"v2z","x":2.4,"y":0.36},{"s":"v2z","x":2.6,"y":0.372},{"s":"v2z","x":2.8,"y":0.38},{"s":"v2z","x":3,"y":0.378},{"s":"v2z","x":3.2,"y":0.37},{"s":"v2z","x":3.4,"y":0.375},{"s":"v2z","x":3.6,"y":0.39},{"s":"v2z","x":3.8,"y":0.4},{"s":"v2z","x":4,"y":0.395},{"s":"v2z","x":4.2,"y":0.385},{"s":"v2z","x":4.4,"y":0.375},{"s":"v2z","x":4.6,"y":0.37},{"s":"v2z","x":4.8,"y":0.365},{"s":"v2z","x":5,"y":0.36},{"s":"v2z","x":5.2,"y":0.36},{"s":"v2z","x":5.4,"y":0.375},{"s":"v2z","x":5.6,"y":0.38},{"s":"v2z","x":5.8,"y":0.38},{"s":"v2z","x":6,"y":0.38},{"s":"v2z","x":6.4,"y":0.39},{"s":"v2z","x":6.8,"y":0.39},{"s":"v2z","x":7,"y":0.385}
]},"mark":{"type":"line","color":"#111","strokeWidth":1.3,"interpolate":"monotone"},"encoding":{"detail":{"field":"s"}}},
{"data":{"values":[
{"s":"v2y","x":0,"y":1.08},{"s":"v2y","x":1,"y":1.065},{"s":"v2y","x":2,"y":1.05},{"s":"v2y","x":3,"y":1.03},{"s":"v2y","x":4,"y":1.01},{"s":"v2y","x":5,"y":0.995},{"s":"v2y","x":6,"y":0.97},{"s":"v2y","x":7,"y":0.95},
{"s":"v2z","x":0,"y":0.365},{"s":"v2z","x":1,"y":0.365},{"s":"v2z","x":2,"y":0.37},{"s":"v2z","x":3,"y":0.375},{"s":"v2z","x":4,"y":0.375},{"s":"v2z","x":5,"y":0.38},{"s":"v2z","x":6,"y":0.385},{"s":"v2z","x":7,"y":0.385}
]},"mark":{"type":"line","color":"#0000dd","strokeWidth":3.4,"strokeDash":[14,14.3]},"encoding":{"detail":{"field":"s"}}},
{"data":{"values":[{"x":5.67,"x2":6.5,"y":0.214}]},"mark":{"type":"rule","color":"#111","strokeWidth":1.4},"encoding":{"x2":{"field":"x2"}}},
{"data":{"values":[{"x":5.67,"x2":6.5,"y":0}]},"mark":{"type":"rule","color":"#0000dd","strokeWidth":3.4,"strokeDash":[14,14]},"encoding":{"x2":{"field":"x2"}}},
{"data":{"values":[{"x":4.9,"y":0.155,"t":"Full"},{"x":4.9,"y":-0.068,"t":"Eff"}]},"mark":{"type":"text","align":"left","baseline":"alphabetic","fontSize":17},"encoding":{"text":{"field":"t"}}},
{"data":{"values":[{"x":-1.137,"y":1.244,"t":"(b)"}]},"mark":{"type":"text","align":"left","baseline":"alphabetic","fontSize":15},"encoding":{"text":{"field":"t"}}},
{"data":{"values":[{"x":2.83,"y":0.904,"t":"v"},{"x":2.83,"y":0.165,"t":"v"},{"x":3.62,"y":0.165,"t":"k"},{"x":3.91,"y":0.165,"t":"δ"}]},"mark":{"type":"text","align":"left","baseline":"alphabetic","fontSize":14,"fontStyle":"italic"},"encoding":{"text":{"field":"t"}}},
{"data":{"values":[{"x":3,"y":0.875,"t":"2y"},{"x":3,"y":0.136,"t":"2z"},{"x":3.78,"y":0.136,"t":"0"}]},"mark":{"type":"text","align":"left","baseline":"alphabetic","fontSize":10,"fontStyle":"italic"},"encoding":{"text":{"field":"t"}}},
{"data":{"values":[{"x":3.29,"y":0.165,"t":"/ ("},{"x":4.07,"y":0.165,"t":")"}]},"mark":{"type":"text","align":"left","baseline":"alphabetic","fontSize":14},"encoding":{"text":{"field":"t"}}},
{"data":{"values":[{"x":7.01,"y":-0.32,"t":"ζ"},{"x":7.01,"y":-0.485,"t":"δ"}]},"mark":{"type":"text","align":"center","baseline":"alphabetic","fontSize":12,"fontStyle":"italic"},"encoding":{"text":{"field":"t"}}},
{"data":{"values":[{"x":6.93,"x2":7.09,"y":-0.369}]},"mark":{"type":"rule","color":"#111","strokeWidth":0.8},"encoding":{"x2":{"field":"x2"}}},
{"data":{"values":[{"x":0,"y":0}]},"mark":{"type":"point","opacity":0},"encoding":{"x":{"field":"x","type":"quantitative","scale":{"domain":[0,7],"nice":false,"zero":false},"axis":{"orient":"bottom","title":null,"values":[0,1,2,3,4,5,6],"labelPadding":6,"format":"d"}},"y":{"field":"y","type":"quantitative","scale":{"domain":[-0.2,1.2],"nice":false,"zero":false},"axis":{"orient":"left","title":"Streaming [mm/s]","titleX":-41,"titleY":75,"values":[-0.2,0,0.2,0.4,0.6,0.8,1,1.2],"labelExpr":"datum.value==1.2?'1.2':datum.value==0.8?'0.8':datum.value==0.4?'0.4':datum.value==0?'0':''","labelPadding":5}}}},
{"data":{"values":[{"x":0,"y":0}]},"mark":{"type":"point","opacity":0},"encoding":{"x":{"field":"x","type":"quantitative","scale":{"domain":[0,7],"nice":false,"zero":false},"axis":{"orient":"top","title":null,"values":[0,1,2,3,4,5,6,7],"labels":false}},"y":{"field":"y","type":"quantitative","scale":{"domain":[-0.2,1.2],"nice":false,"zero":false},"axis":{"orient":"right","title":null,"values":[-0.2,0,0.2,0.4,0.6,0.8,1,1.2],"labels":false}}}}
]}]}
